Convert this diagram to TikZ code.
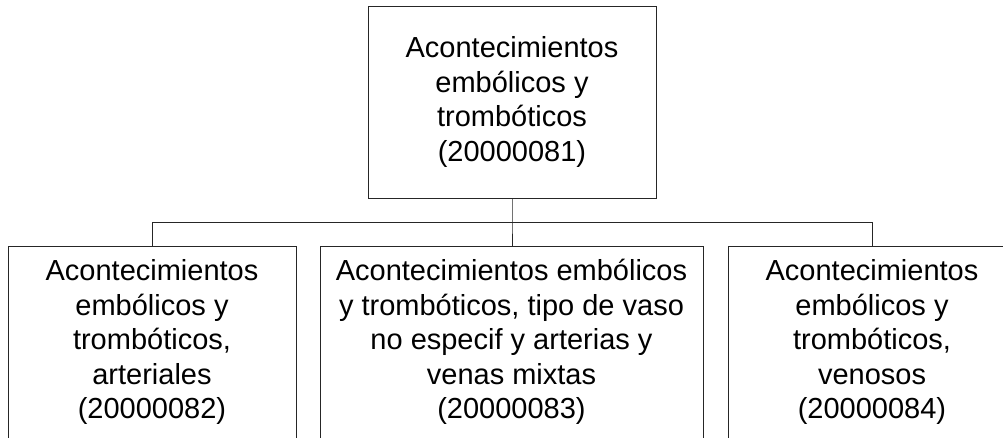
\documentclass[tikz,border=0pt]{standalone}
\usepackage{fontspec}
\setmainfont{Liberation Sans}
\usepackage{tikz}
\usetikzlibrary{positioning}

\begin{document}
\begin{tikzpicture}[
  x=1pt, y=-1pt,
  term/.style={rectangle, draw=black!85, line width=0.9pt, minimum width=288pt, minimum height=192pt, inner sep=0pt, align=center, font=\fontsize{29}{34.5}\selectfont},
  conn/.style={draw=black!85, line width=0.9pt}
]
  \useasboundingbox (0,0) rectangle (1003,437);
  \clip (0,0) rectangle (1003,437);

  \node[term] (top) at (512,102) {Acontecimientos\\embólicos y\\trombóticos\\(20000081)};
  \node[term] (arter) at (152,342) {Acontecimientos\\embólicos y\\trombóticos,\\arteriales\\(20000082)};
  \node[term, minimum width=383pt] (mixta) at (511.5,342) {Acontecimientos embólicos\\y trombóticos, tipo de vaso\\no especif y arterias y\\venas mixtas\\(20000083)};
  \node[term] (venos) at (872,342) {Acontecimientos\\embólicos y\\trombóticos,\\venosos\\(20000084)};

  \coordinate (bus) at (512,222);
  \draw[conn] (top.south) -- (bus) -- (bus |- mixta.north);
  \draw[conn] (bus) -| (arter.north);
  \draw[conn] (bus) -| (venos.north);
\end{tikzpicture}
\end{document}
